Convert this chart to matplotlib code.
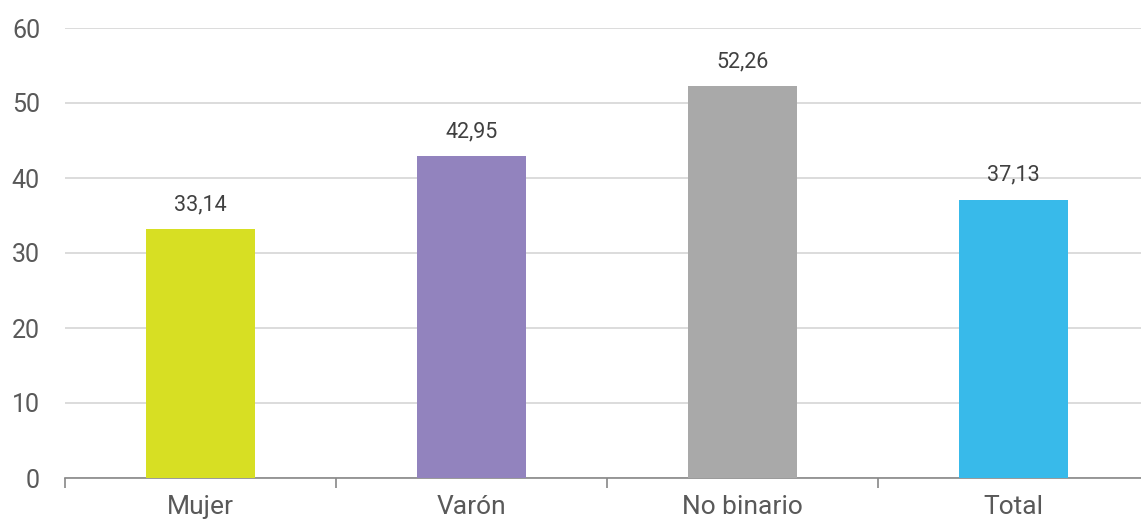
import matplotlib.pyplot as plt
import numpy as np

categories = ["Mujer", "Varón", "No binario", "Total"]
values = [33.14, 42.95, 52.26, 37.13]
bar_colors = ["#D7DF23", "#9283BE", "#A9A9A9", "#38BAEA"]
y_ticks = [0, 10, 20, 30, 40, 50, 60]

plt.rcParams['font.family'] = ['Roboto', 'DejaVu Sans']

W, H = 1141, 526
fig = plt.figure(figsize=(W / 100, H / 100), dpi=100)
# axes in pixel terms: x from 65 to 1149, y from 478 (0) to 28 (60)
ax = fig.add_axes([65 / W, (H - 478) / H, 1084 / W, 450 / H])

x = np.arange(len(categories))
bars = ax.bar(x, values, width=0.4, color=bar_colors, zorder=3)

for b, v in zip(bars, values):
    ax.annotate(f"{v:.2f}".replace(".", ","), (b.get_x() + b.get_width() / 2, v),
                xytext=(0, 10), textcoords="offset points", ha="center", va="bottom",
                fontsize=15.5, color="#404040")

ax.set_xlim(-0.5, len(categories) - 0.5)
ax.set_ylim(0, 60)
ax.set_yticks(y_ticks)
ax.set_yticklabels([str(t) for t in y_ticks], fontsize=18, color="#595959")
ax.tick_params(axis="y", length=0, pad=18)

# category boundaries as ticks, names in between
ax.set_xticks(np.arange(-0.5, len(categories)), minor=False)
ax.set_xticklabels([])
ax.set_xticks(x, minor=True)
ax.set_xticklabels(categories, minor=True, fontsize=19, color="#595959")
ax.tick_params(axis="x", which="major", length=7, width=1.2, color="#888888")
ax.tick_params(axis="x", which="minor", length=0, pad=12)

ax.yaxis.grid(True, color="#D9D9D9", linewidth=1.3, zorder=0)
for s in ["top", "right", "left"]:
    ax.spines[s].set_visible(False)
ax.spines["bottom"].set_color("#888888")
ax.spines["bottom"].set_linewidth(1.2)

fig.savefig("out.png", dpi=100)
